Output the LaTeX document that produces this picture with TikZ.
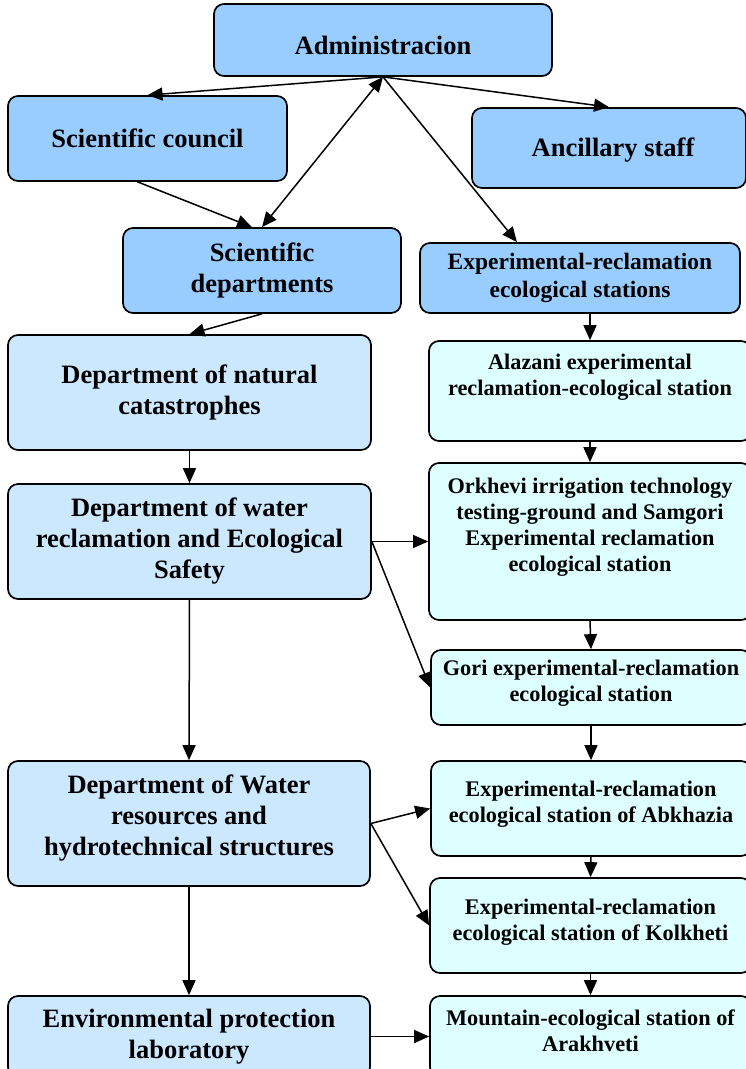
\documentclass[tikz,border=0pt]{standalone}
\usepackage{fontspec}
\setmainfont{Liberation Serif}
\usepackage{tikz}
\usepackage{xcolor}
\usetikzlibrary{
    arrows,
    arrows.meta,
    shapes,
    calc
}
\definecolor{headblue}{HTML}{99CCFF}
\definecolor{deptblue}{HTML}{CCE8FF}
\definecolor{stationcyan}{HTML}{DDFFFF}

\begin{document}
\begin{tikzpicture}[x=1pt, y=-1pt, >={Triangle[length=15pt,width=13pt]},
        box/.style={
            % The shape:
            rectangle, rounded corners=10pt,
            % The border
            line width=1.7pt, draw=black,
            % The text
            align=center, inner sep=2pt,
            font=\bfseries\fontsize{26.5}{31}\selectfont},
        dims/.style 2 args={minimum width=#1, minimum height=#2},
        head/.style={box, fill=headblue},
        dept/.style={box, fill=deptblue},
        station/.style={box, fill=stationcyan,
            font=\bfseries\fontsize{22.3}{26}\selectfont},
        link/.style={->, line width=1.5pt}]

        \path[use as bounding box, fill=white] (0,0) rectangle (746,1069);
        \clip (0,0) rectangle (746,1069);

        % top level
        \node[head, dims={338pt}{72pt}, text height=30pt] (admin) at (383,40) {Administracion};
        \node[head, dims={279pt}{85pt}] (council) at (147.5,138.5) {Scientific council};
        \node[head, dims={274pt}{80pt}, text height=23pt] (ancillary) at (609,148) {\hspace*{8pt}Ancillary staff};
        \node[head, dims={278pt}{85pt}] (scidept) at (262,270.5) {Scientific\\departments};
        \node[head, dims={320pt}{70pt}, font=\bfseries\fontsize{23.5}{28}\selectfont]
            (expst) at (580,278) {Experimental-reclamation\\ecological stations};

        % departments
        \node[dept, dims={363pt}{115pt}] (natcat) at (189.5,392.5) {Department of natural\\catastrophes};
        \node[dept, dims={363pt}{115pt}] (waterrecl) at (189.5,541.5)
            {Department of water\\reclamation and Ecological\\Safety};
        \node[dept, dims={362pt}{125pt}, text depth=16pt] (waterres) at (189,823.5)
            {Department of Water\\resources and\\hydrotechnical structures};
        \node[dept, dims={362pt}{81pt}] (envlab) at (189,1036.5) {Environmental protection\\laboratory};

        % stations
        \node[station, dims={322pt}{100pt}, text depth=33pt] (alazani) at (590,391)
            {Alazani experimental\\reclamation-ecological station};
        \node[station, dims={322pt}{157pt}, text depth=33pt] (orkhevi) at (590,541.5)
            {Orkhevi irrigation technology\\testing-ground and Samgori\\Experimental reclamation\\ecological station};
        \node[station, dims={320pt}{75pt}, text depth=13pt] (gori) at (591,687.5)
            {Gori experimental-reclamation\\ecological station};
        \node[station, dims={320pt}{95pt}, text depth=13pt] (abkhazia) at (591,808.5)
            {Experimental-reclamation\\ecological station of Abkhazia};
        \node[station, dims={321pt}{95pt}, text depth=11pt] (kolkheti) at (590.5,925.5)
            {Experimental-reclamation\\ecological station of Kolkheti};
        \node[station, dims={321pt}{81pt}, text depth=12pt] (arakhveti) at (590.5,1036.5)
            {Mountain-ecological station of\\Arakhveti};

        \draw[link] (admin.south) -- (council.north);
        \draw[link] (admin.south) -- (ancillary.north);
        \draw[link] (admin.south) -- ([xshift=-63pt]expst.north);
        \draw[link, <->] (admin.south) -- (scidept.north);
        \draw[link] ([xshift=-10pt]council.south) -- ([xshift=-10pt]scidept.north);
        \draw[link] (scidept.south) -- (natcat.north);
        \draw[link] (alazani.north |- expst.south) -- (alazani.north);
        \foreach \a/\b in {natcat/waterrecl, waterrecl/waterres, waterres/envlab,
            alazani/orkhevi, orkhevi/gori, gori/abkhazia, abkhazia/kolkheti, kolkheti/arakhveti}{
          \draw[link] (\a.south) -- (\b.north);
        }
        \draw[link] (waterrecl.east) -- (orkhevi.west);
        \draw[link] (waterrecl.east) -- (gori.west);
        \draw[link] (waterres.east) -- (abkhazia.west);
        \draw[link] (waterres.east) -- (kolkheti.west);
        \draw[link] (envlab.east) -- (arakhveti.west);

\end{tikzpicture}
\end{document}
